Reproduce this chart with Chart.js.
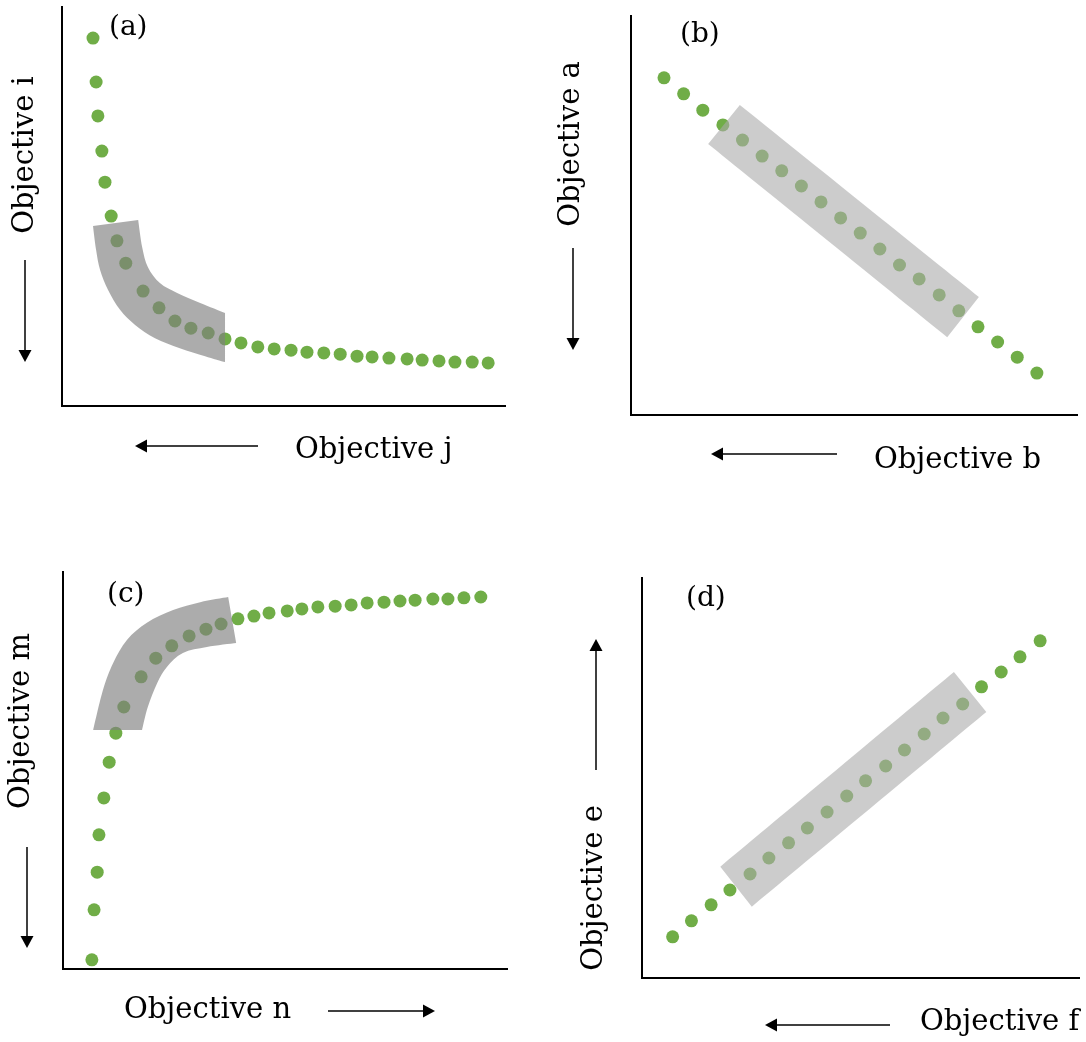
<!DOCTYPE html>
<html>
<head>
<meta charset="utf-8">
<script src="https://cdn.jsdelivr.net/npm/chart.js@4.4.1/dist/chart.umd.min.js"></script>
<style>
  body { margin: 0; background: #fff; }
  #wrap { position: relative; width: 1086px; height: 1042px; }
  canvas { position: absolute; }
</style>
</head>
<body>
<div id="wrap">
  <canvas id="panelA" width="543" height="521" style="left:0;top:0"></canvas>
  <canvas id="panelB" width="543" height="521" style="left:543px;top:0"></canvas>
  <canvas id="panelC" width="543" height="521" style="left:0;top:521px"></canvas>
  <canvas id="panelD" width="543" height="521" style="left:543px;top:521px"></canvas>
</div>
<script>
'use strict';

// panel (a): objective j vs objective i
var aX = [7.0, 7.7, 8.1, 9.0, 9.7, 11.1, 12.4, 14.4, 18.3, 21.9, 25.5, 29.1, 33.0, 36.8, 40.4,
  44.2, 47.9, 51.7, 55.3, 59.1, 62.8, 66.6, 70.0, 73.8, 77.9, 81.3, 85.1, 88.7, 92.6, 96.2];
var aY = [92.2, 81.2, 72.7, 63.9, 56.1, 47.6, 41.4, 35.8, 28.8, 24.6, 21.3, 19.5, 18.3, 16.8, 15.8,
  14.8, 14.3, 14.0, 13.5, 13.3, 13.0, 12.5, 12.3, 12.0, 11.8, 11.5, 11.3, 11.0, 11.0, 10.8];
// highlight band: outer edge, then inner edge (both from the top-left end)
var aOuterX = [7.0, 7.7, 8.6, 10.4, 13.1, 16.5, 21.0, 26.6, 32.3, 36.8];
var aOuterY = [45.1, 39.1, 34.1, 29.1, 24.1, 20.3, 17.0, 14.5, 12.5, 11.0];
var aInnerX = [17.2, 18.1, 19.4, 22.1, 26.0, 31.2, 36.8];
var aInnerY = [46.6, 39.8, 34.8, 30.8, 28.3, 25.8, 23.3];

// panel (b): objective b vs objective a
var bX = [7.4, 11.8, 16.1, 20.6, 25.0, 29.4, 33.8, 38.2, 42.6, 47.0,
  51.4, 55.8, 60.2, 64.6, 69.1, 73.5, 77.8, 82.2, 86.6, 91.0];
var bY = [84.5, 80.5, 76.4, 72.7, 68.9, 64.9, 61.2, 57.4, 53.4, 49.4,
  45.6, 41.6, 37.6, 34.1, 30.1, 26.1, 22.1, 18.3, 14.5, 10.5];
var bOuterX = [17.3, 70.9];
var bOuterY = [67.9, 19.5];
var bInnerX = [24.4, 78.0];
var bInnerY = [77.7, 29.6];

// panel (c): objective n vs objective m
var cX = [6.5, 7.0, 7.7, 8.1, 9.2, 10.4, 11.9, 13.7, 17.6, 20.9, 24.5, 28.4, 32.2, 35.6, 39.4,
  43.0, 46.4, 50.5, 53.8, 57.4, 61.3, 64.9, 68.5, 72.3, 75.9, 79.3, 83.3, 86.7, 90.3, 94.1];
var cY = [2.3, 14.9, 24.4, 33.8, 43.1, 52.1, 59.4, 66.0, 73.6, 78.3, 81.4, 83.9, 85.6, 86.9, 88.2,
  88.9, 89.7, 90.2, 90.7, 91.2, 91.4, 91.7, 92.2, 92.4, 92.7, 92.9, 93.2, 93.2, 93.5, 93.7];
var cOuterX = [6.8, 9.0, 11.3, 14.4, 18.9, 24.8, 30.9, 37.2];
var cOuterY = [60.2, 70.3, 77.1, 82.9, 87.2, 90.4, 92.4, 93.7];
var cInnerX = [17.8, 19.1, 21.2, 23.4, 27.0, 32.4, 39.0];
var cInnerY = [60.2, 66.0, 72.0, 76.1, 79.6, 81.1, 82.1];

// panel (d): objective f vs objective e
var dX = [7.0, 11.3, 15.8, 20.1, 24.7, 29.0, 33.5, 37.8, 42.3, 46.8,
  51.1, 55.7, 60.0, 64.5, 68.8, 73.3, 77.6, 82.1, 86.4, 91.0];
var dY = [10.3, 14.3, 18.3, 22.0, 26.0, 30.0, 33.8, 37.5, 41.5, 45.5,
  49.3, 53.0, 57.0, 61.0, 65.0, 68.5, 72.8, 76.5, 80.3, 84.3];
var dOuterX = [17.9, 71.3];
var dOuterY = [27.8, 76.5];
var dInnerX = [25.1, 78.7];
var dInnerY = [17.8, 66.5];

var GREEN = '#70AD47';
var FONT = '"DejaVu Serif", serif';

function toPoints(xs, ys) {
  return xs.map(function (x, i) { return { x: x, y: ys[i] }; });
}

// smooth curve through pixel points (catmull-rom), assumes current point is pts[0]
function curveThrough(ctx, pts) {
  for (var i = 0; i < pts.length - 1; i++) {
    var p0 = pts[i - 1] || pts[i];
    var p1 = pts[i];
    var p2 = pts[i + 1];
    var p3 = pts[i + 2] || p2;
    ctx.bezierCurveTo(
      p1[0] + (p2[0] - p0[0]) / 6, p1[1] + (p2[1] - p0[1]) / 6,
      p2[0] - (p3[0] - p1[0]) / 6, p2[1] - (p3[1] - p1[1]) / 6,
      p2[0], p2[1]);
  }
}

// grey highlight drawn over the dots, through the chart scales
var bandPlugin = {
  id: 'band',
  afterDatasetsDraw: function (chart, args, opts) {
    var ctx = chart.ctx;
    var sx = chart.scales.x, sy = chart.scales.y;
    var px = function (xs, ys) {
      return xs.map(function (x, i) { return [sx.getPixelForValue(x), sy.getPixelForValue(ys[i])]; });
    };
    var outer = px(opts.outerX, opts.outerY);
    var inner = px(opts.innerX, opts.innerY).reverse();
    ctx.save();
    ctx.beginPath();
    ctx.moveTo(outer[0][0], outer[0][1]);
    curveThrough(ctx, outer);
    ctx.lineTo(inner[0][0], inner[0][1]);
    curveThrough(ctx, inner);
    ctx.closePath();
    ctx.fillStyle = opts.color;
    ctx.fill();
    ctx.restore();
  }
};

function arrow(ctx, x1, y1, x2, y2) {
  var ang = Math.atan2(y2 - y1, x2 - x1);
  var len = 12, half = 6.5;
  ctx.beginPath();
  ctx.moveTo(x1, y1);
  ctx.lineTo(x2 - Math.cos(ang) * len, y2 - Math.sin(ang) * len);
  ctx.lineWidth = 1.5;
  ctx.strokeStyle = '#000';
  ctx.stroke();
  ctx.beginPath();
  ctx.moveTo(x2, y2);
  ctx.lineTo(x2 - Math.cos(ang) * len - Math.sin(ang) * half, y2 - Math.sin(ang) * len + Math.cos(ang) * half);
  ctx.lineTo(x2 - Math.cos(ang) * len + Math.sin(ang) * half, y2 - Math.sin(ang) * len - Math.cos(ang) * half);
  ctx.closePath();
  ctx.fillStyle = '#000';
  ctx.fill();
}

// panel letter, axis names and direction arrows
var notesPlugin = {
  id: 'notes',
  afterDraw: function (chart, args, o) {
    var ctx = chart.ctx;
    ctx.save();
    ctx.fillStyle = '#000';
    ctx.textBaseline = 'middle';
    ctx.textAlign = 'left';
    ctx.font = '28px ' + FONT;
    ctx.fillText(o.letter, o.letterPos[0], o.letterPos[1]);
    ctx.font = '29px ' + FONT;
    ctx.fillText(o.xName, o.xNamePos[0], o.xNamePos[1]);
    ctx.save();
    ctx.translate(o.yNamePos[0], o.yNamePos[1]);
    ctx.rotate(-Math.PI / 2);
    ctx.textAlign = 'center';
    ctx.fillText(o.yName, 0, 0);
    ctx.restore();
    arrow(ctx, o.xArrow[0], o.xArrow[1], o.xArrow[2], o.xArrow[3]);
    arrow(ctx, o.yArrow[0], o.yArrow[1], o.yArrow[2], o.yArrow[3]);
    ctx.restore();
  }
};

function makePanel(id, xs, ys, band, padding, notes) {
  var axis = function (horizontal) {
    return {
      type: 'linear',
      min: 0,
      max: 100,
      ticks: { display: false },
      grid: { display: false, drawTicks: false },
      border: { display: true, color: '#000', width: 2 },
      afterFit: function (s) {
        if (horizontal) s.height = 0; else s.width = 0;
      }
    };
  };
  return new Chart(document.getElementById(id).getContext('2d'), {
    type: 'scatter',
    data: {
      datasets: [{
        data: toPoints(xs, ys),
        backgroundColor: GREEN,
        borderWidth: 0,
        pointRadius: 6.5,
        pointHoverRadius: 6.5
      }]
    },
    options: {
      responsive: false,
      animation: false,
      events: [],
      layout: { padding: padding },
      scales: { x: axis(true), y: axis(false) },
      plugins: {
        legend: { display: false },
        tooltip: { enabled: false },
        band: band,
        notes: notes
      }
    },
    plugins: [bandPlugin, notesPlugin]
  });
}

var DARK_BAND = 'rgba(128,128,128,0.65)';
var LIGHT_BAND = 'rgba(170,170,170,0.6)';

makePanel('panelA', aX, aY,
  { outerX: aOuterX, outerY: aOuterY, innerX: aInnerX, innerY: aInnerY, color: DARK_BAND },
  { left: 62, top: 7, right: 38, bottom: 115 },
  { letter: '(a)', letterPos: [109, 28], xName: 'Objective j', xNamePos: [295, 450],
    yName: 'Objective i', yNamePos: [25, 155], xArrow: [258, 446, 135, 446], yArrow: [25, 260, 25, 362] });

makePanel('panelB', bX, bY,
  { outerX: bOuterX, outerY: bOuterY, innerX: bInnerX, innerY: bInnerY, color: LIGHT_BAND },
  { left: 88, top: 16, right: 9, bottom: 106 },
  { letter: '(b)', letterPos: [137, 35], xName: 'Objective b', xNamePos: [331, 460],
    yName: 'Objective a', yNamePos: [28, 144], xArrow: [294, 454, 168, 454], yArrow: [30, 248, 30, 350] });

makePanel('panelC', cX, cY,
  { outerX: cOuterX, outerY: cOuterY, innerX: cInnerX, innerY: cInnerY, color: DARK_BAND },
  { left: 63, top: 51, right: 36, bottom: 73 },
  { letter: '(c)', letterPos: [107, 74], xName: 'Objective n', xNamePos: [124, 489],
    yName: 'Objective m', yNamePos: [21, 200], xArrow: [328, 490, 435, 490], yArrow: [27, 326, 27, 427] });

makePanel('panelD', dX, dY,
  { outerX: dOuterX, outerY: dOuterY, innerX: dInnerX, innerY: dInnerY, color: LIGHT_BAND },
  { left: 99, top: 57, right: 2, bottom: 64 },
  { letter: '(d)', letterPos: [143, 78], xName: 'Objective f', xNamePos: [377, 501],
    yName: 'Objective e', yNamePos: [51, 367], xArrow: [347, 504, 222, 504], yArrow: [53, 249, 53, 118] });
</script>
</body>
</html>
